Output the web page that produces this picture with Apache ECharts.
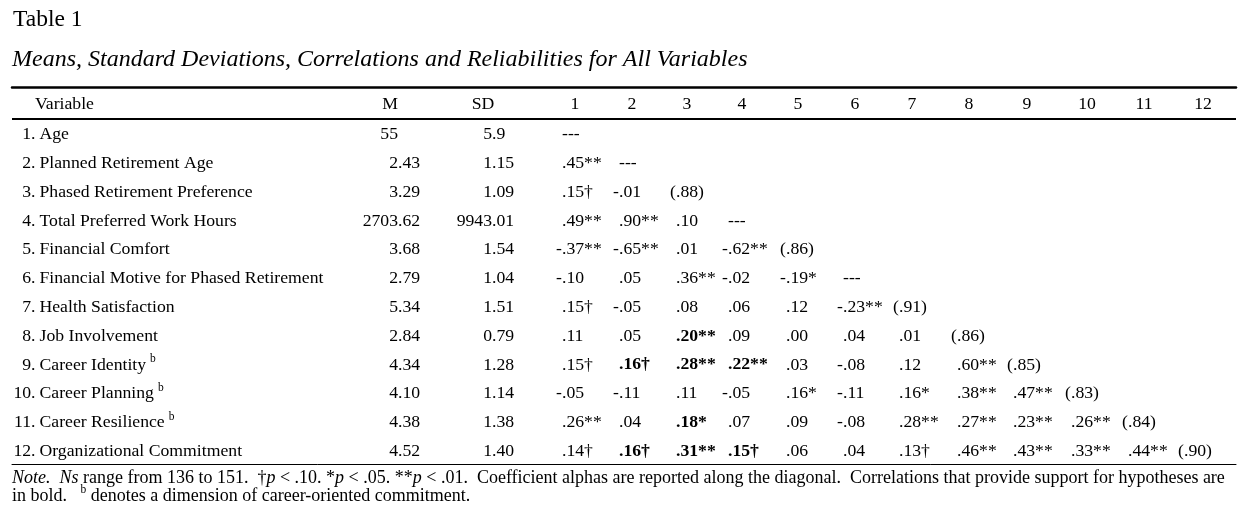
<!DOCTYPE html>
<html><head><meta charset="utf-8">
<script src="https://cdn.jsdelivr.net/npm/echarts@6/dist/echarts.min.js"></script>
<style>html,body{margin:0;padding:0;background:#fff}#c{width:1245px;height:508px}</style>
</head><body><div id="c"></div>
<script>
// ---------------- DATA ----------------
const tableTitle = 'Table 1';
const tableSubtitle = 'Means, Standard Deviations, Correlations and Reliabilities for All Variables';
const headerLabels = ['M', 'SD', '1', '2', '3', '4', '5', '6', '7', '8', '9', '10', '11', '12'];
const variables = ['Age', 'Planned Retirement Age', 'Phased Retirement Preference', 'Total Preferred Work Hours',
  'Financial Comfort', 'Financial Motive for Phased Retirement', 'Health Satisfaction', 'Job Involvement',
  'Career Identity', 'Career Planning', 'Career Resilience', 'Organizational Commitment'];
const careerDimension = [0, 0, 0, 0, 0, 0, 0, 0, 1, 1, 1, 0];
const means = ['55', '2.43', '3.29', '2703.62', '3.68', '2.79', '5.34', '2.84', '4.34', '4.10', '4.38', '4.52'];
const sds = ['5.9', '1.15', '1.09', '9943.01', '1.54', '1.04', '1.51', '0.79', '1.28', '1.14', '1.38', '1.40'];
// lower-triangle correlations, row i holds columns 1..i-1
const correlations = [
  [],
  [.45],
  [.15, -.01],
  [.49, .90, .10],
  [-.37, -.65, .01, -.62],
  [-.10, .05, .36, -.02, -.19],
  [.15, -.05, .08, .06, .12, -.23],
  [.11, .05, .20, .09, .00, .04, .01],
  [.15, .16, .28, .22, .03, -.08, .12, .60],
  [-.05, -.11, .11, -.05, .16, -.11, .16, .38, .47],
  [.26, .04, .18, .07, .09, -.08, .28, .27, .23, .26],
  [.14, .16, .31, .15, .06, .04, .13, .46, .43, .33, .44]
];
const significance = [
  [],
  ['**'],
  ['†', ''],
  ['**', '**', ''],
  ['**', '**', '', '**'],
  ['', '', '**', '', '*'],
  ['†', '', '', '', '', '**'],
  ['', '', '**', '', '', '', ''],
  ['†', '†', '**', '**', '', '', '', '**'],
  ['', '', '', '', '*', '', '*', '**', '**'],
  ['**', '', '*', '', '', '', '**', '**', '**', '**'],
  ['†', '†', '**', '†', '', '', '†', '**', '**', '**', '**']
];
const alphas = [null, null, .88, null, .86, null, .91, .86, .85, .83, .84, .90];
// [row, column] of correlations printed in bold
const boldCells = [[8, 3], [9, 2], [9, 3], [9, 4], [11, 3], [12, 2], [12, 3], [12, 4]];

// ---------------- LAYOUT / STYLE ----------------
const SERIF = '"Liberation Serif","Times New Roman",serif';
const FS = 17.7;
const ROW_DY = 1.5;
const headerCenters = [390, 483, 575, 632, 687, 742, 798, 855, 912, 969, 1027, 1087, 1144, 1203];
const meanAnchor = 398, sdAnchor = 492;
const corrAnchors = [562, 619, 676, 728, 786, 843, 899, 957, 1013, 1071, 1128, 1184];
const variableHeaderX = 35, numberRightX = 35.5, nameLeftX = 39.5;

const ctx = document.createElement('canvas').getContext('2d');
function fontStr(size, weight, style) { return (style || 'normal') + ' ' + (weight || 'normal') + ' ' + size + 'px ' + SERIF; }
function textWidth(t, size, weight, style) { ctx.font = fontStr(size, weight, style); return ctx.measureText(t).width; }
function fmtR(v) { const s = Math.abs(v).toFixed(2).replace(/^0/, ''); return (v < 0 ? '-' : '') + s; }
function prefixOf(t) {
  if (t === '---') return '';
  const k = t.indexOf('.');
  return k >= 0 ? t.slice(0, k) : t;
}

const cells = [];
cells.push({ x: variableHeaderX, row: 0, text: 'Variable', align: 'left', dy: -1 });
headerLabels.forEach((h, i) => cells.push({ x: headerCenters[i], row: 0, text: h, align: 'center', dy: -1 }));
function addDecimal(text, anchor, row, bold) {
  const w = bold ? 'bold' : 'normal';
  cells.push({ x: anchor, row, text, align: 'left', bold, dx: -textWidth(prefixOf(text), FS, w) });
}
variables.forEach((name, i) => {
  const r = i + 1;
  cells.push({ x: numberRightX, row: r, text: r + '.', align: 'right' });
  cells.push({ x: nameLeftX, row: r, text: name, align: 'left', sup: careerDimension[i] ? 'b' : null });
  addDecimal(means[i], meanAnchor, r, false);
  addDecimal(sds[i], sdAnchor, r, false);
  correlations[i].forEach((v, j) => {
    const bold = boldCells.some(b => b[0] === r && b[1] === j + 1);
    addDecimal(fmtR(v) + significance[i][j], corrAnchors[j], r, bold);
  });
  const diag = alphas[i] == null ? '---' : '(' + fmtR(alphas[i]) + ')';
  addDecimal(diag, corrAnchors[i], r, false);
});

// ---------------- CHART ----------------
const chart = echarts.init(document.getElementById('c'), null, { renderer: 'canvas' });

const noteY1 = 478, noteY2 = 496, NFS = 18;
const note1 = '{i|Note.}  {i|Ns} range from 136 to 151.  †{i|p} < .10. *{i|p} < .05. **{i|p} < .01.  Coefficient alphas are reported along the diagonal.  Correlations that provide support for hypotheses are';
const note2a = 'in bold.   ';
const note2b = ' denotes a dimension of career-oriented commitment.';
const w2a = textWidth(note2a, NFS);
const wb = textWidth('b', 11.5);

chart.setOption({
  animation: false,
  backgroundColor: '#fff',
  grid: { left: 12, right: 9, top: 86.9, bottom: 43.8 },
  xAxis: [
    { type: 'value', min: 12, max: 1236, position: 'bottom', axisLine: { show: true, onZero: false, lineStyle: { color: '#000', width: 1 } },
      axisTick: { show: false }, axisLabel: { show: false }, splitLine: { show: false } },
    { type: 'value', min: 12, max: 1236, position: 'top', axisLine: { show: true, onZero: false, lineStyle: { color: '#000', width: 2.5 } },
      axisTick: { show: false }, axisLabel: { show: false }, splitLine: { show: false } }
  ],
  yAxis: { type: 'value', inverse: true, min: -0.6, max: 12.5, show: false, splitLine: { show: false } },
  graphic: [
    { type: 'text', x: 13, y: 20, style: { text: tableTitle, font: fontStr(23.5), fill: '#000', verticalAlign: 'middle' } },
    { type: 'text', x: 12, y: 60, style: { text: tableSubtitle, font: fontStr(24, 'normal', 'italic'), fill: '#000', verticalAlign: 'middle' } },
    { type: 'text', x: 12, y: noteY1, style: { text: note1, font: fontStr(NFS), fill: '#000', verticalAlign: 'middle',
        rich: { i: { fontStyle: 'italic', fontSize: NFS, fontFamily: SERIF, fill: '#000' } } } },
    { type: 'text', x: 12, y: noteY2, style: { text: note2a, font: fontStr(NFS), fill: '#000', verticalAlign: 'middle' } },
    { type: 'text', x: 12 + w2a, y: noteY2 - 6, style: { text: 'b', font: fontStr(11.5), fill: '#000', verticalAlign: 'middle' } },
    { type: 'text', x: 12 + w2a + wb, y: noteY2, style: { text: note2b, font: fontStr(NFS), fill: '#000', verticalAlign: 'middle' } }
  ],
  series: [{
    type: 'custom',
    coordinateSystem: 'cartesian2d',
    xAxisIndex: 0, yAxisIndex: 0,
    silent: true,
    data: cells.map(c => [c.x, c.row]),
    renderItem: function (params, api) {
      const c = cells[params.dataIndex];
      const p = api.coord([api.value(0), api.value(1)]);
      const x = p[0] + (c.dx || 0), y = p[1] + ROW_DY + (c.dy || 0);
      const children = [{
        type: 'text', x, y,
        style: { text: c.text, font: fontStr(FS, c.bold ? 'bold' : 'normal'), fill: '#000', align: c.align, verticalAlign: 'middle' }
      }];
      if (c.sup) {
        const w = textWidth(c.text, FS);
        children.push({ type: 'text', x: x + w + 4, y: y - 6,
          style: { text: c.sup, font: fontStr(11.5), fill: '#000', align: 'left', verticalAlign: 'middle' } });
      }
      return { type: 'group', children };
    },
    markLine: {
      silent: true, symbol: 'none', label: { show: false },
      lineStyle: { color: '#000', width: 2, type: 'solid' },
      data: [{ yAxis: 0.5 }]
    }
  }]
});
</script>
</body></html>
